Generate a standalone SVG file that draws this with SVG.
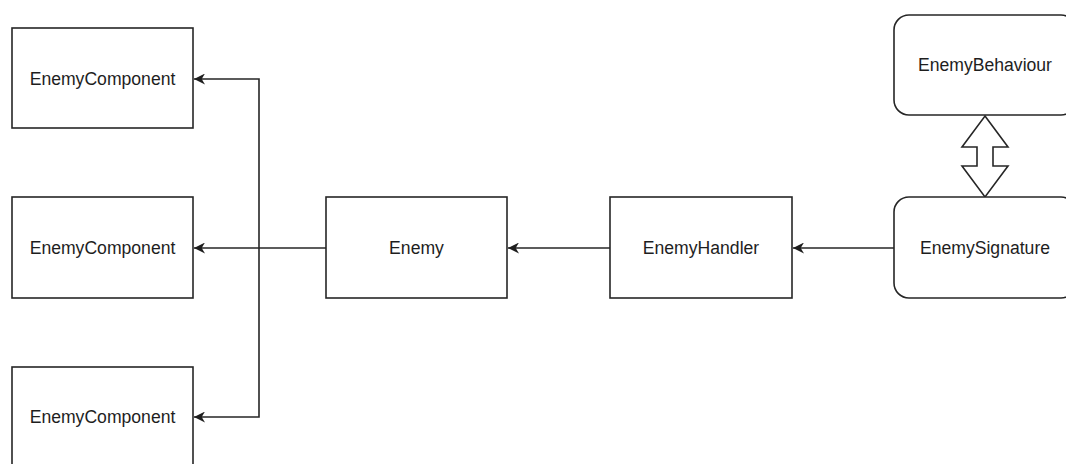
<svg xmlns="http://www.w3.org/2000/svg" width="1066" height="464" viewBox="0 0 1066 464">
  <defs>
    <style>
      .box { fill: #ffffff; stroke: #262626; stroke-width: 1.6; }
      .lbl { font-family: "Liberation Sans", Arial, sans-serif; font-size: 17.6px; fill: #1e1e1e; text-anchor: middle; dominant-baseline: central; }
      .edge { fill: none; stroke: #262626; stroke-width: 1.6; }
    </style>
    <marker id="arrow" viewBox="0 0 10 10" markerUnits="userSpaceOnUse" markerWidth="12" markerHeight="11" refX="10" refY="5" orient="auto">
      <path d="M10,5 L0,0 L3,5 L0,10 Z" fill="#1e1e1e"/>
    </marker>
  </defs>

  <rect width="1066" height="464" fill="#ffffff"/>

  <!-- connectors -->
  <g id="connectors">
    <path class="edge" d="M326,248 H194" marker-end="url(#arrow)"/>
    <path class="edge" d="M259,248 V79 H194" marker-end="url(#arrow)"/>
    <path class="edge" d="M259,248 V417 H194" marker-end="url(#arrow)"/>
    <path class="edge" d="M610,248 H508" marker-end="url(#arrow)"/>
    <path class="edge" d="M894,248 H793" marker-end="url(#arrow)"/>
    <!-- two-way block arrow between behaviour and signature -->
    <path d="M985,116 L1008,147 L993,147 L993,166 L1008,166 L985,197 L962,166 L977,166 L977,147 L962,147 Z" fill="#ffffff" stroke="#262626" stroke-width="1.6" stroke-linejoin="miter"/>
  </g>

  <!-- nodes -->
  <g id="component-top">
    <rect class="box" x="12" y="28" width="181" height="100"/>
    <text class="lbl" x="102.5" y="78.5">EnemyComponent</text>
  </g>
  <g id="component-middle">
    <rect class="box" x="12" y="197" width="181" height="101"/>
    <text class="lbl" x="102.5" y="248">EnemyComponent</text>
  </g>
  <g id="component-bottom">
    <rect class="box" x="12" y="367" width="181" height="100"/>
    <text class="lbl" x="102.5" y="417">EnemyComponent</text>
  </g>
  <g id="enemy">
    <rect class="box" x="326" y="197" width="181" height="101"/>
    <text class="lbl" x="416.5" y="248">Enemy</text>
  </g>
  <g id="enemy-handler">
    <rect class="box" x="610" y="197" width="182" height="101"/>
    <text class="lbl" x="701" y="248">EnemyHandler</text>
  </g>
  <g id="enemy-signature">
    <rect class="box" x="894" y="197" width="182" height="101" rx="15" ry="15"/>
    <text class="lbl" x="985" y="248">EnemySignature</text>
  </g>
  <g id="enemy-behaviour">
    <rect class="box" x="894" y="15" width="182" height="100" rx="15" ry="15"/>
    <text class="lbl" x="985" y="65">EnemyBehaviour</text>
  </g>
</svg>
